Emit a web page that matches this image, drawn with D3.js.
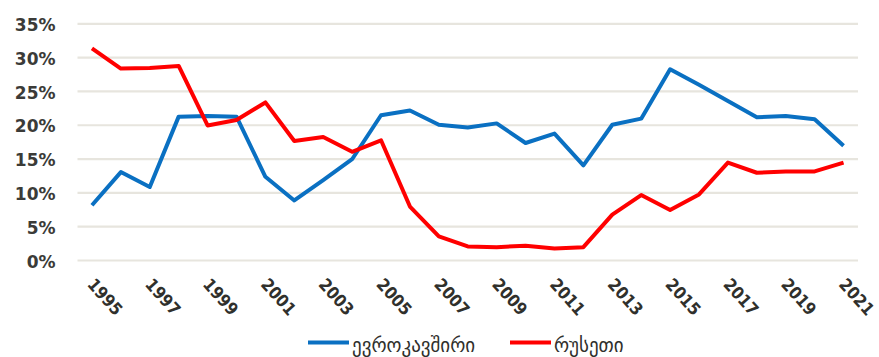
<!DOCTYPE html>
<html>
<head>
<meta charset="utf-8">
<script src="https://cdn.jsdelivr.net/npm/d3@7"></script>
<style>
  html, body { margin: 0; padding: 0; background: #ffffff; }
  svg { display: block; }
</style>
</head>
<body>
<svg id="chart" width="879" height="357"></svg>
<script>
// Annual share (%) by partner, 1995–2021
const years = d3.range(1995, 2022).map(String);
const euValues = [8.1, 13.0, 10.8, 21.2, 21.3, 21.2, 12.3, 8.8, 11.8, 14.9, 21.4, 22.1, 20.0, 19.6, 20.2, 17.3, 18.7, 14.0, 20.0, 20.9, 28.2, 25.9, 23.5, 21.1, 21.3, 20.8, 16.9];
const ruValues = [31.3, 28.3, 28.4, 28.7, 19.9, 20.7, 23.3, 17.6, 18.2, 16.0, 17.7, 7.9, 3.5, 2.0, 1.9, 2.1, 1.7, 1.9, 6.7, 9.6, 7.4, 9.7, 14.4, 12.9, 13.1, 13.1, 14.4];
const yTicks = [0, 5, 10, 15, 20, 25, 30, 35];
const xTickLabels = years.filter((d, i) => i % 2 === 0);
const seriesNames = ["ევროკავშირი", "რუსეთი"];
const seriesColors = ["#0a70c2", "#ff0000"];

const svg = d3.select("#chart");
const plot = { left: 77.5, right: 858, top: 23.3, bottom: 260 };

const x = d3.scalePoint().domain(years).range([plot.left, plot.right]).padding(0.5);
const y = d3.scaleLinear().domain([0, 35]).range([plot.bottom, plot.top]);

// Horizontal gridlines with percentage labels
const yAxis = d3.axisLeft(y)
  .tickValues(yTicks)
  .tickSize(-(plot.right - plot.left))
  .tickPadding(22)
  .tickFormat(d => d + "%");

const gy = svg.append("g")
  .attr("transform", `translate(${plot.left},0)`)
  .call(yAxis);
gy.select(".domain").remove();
gy.selectAll(".tick line")
  .attr("stroke", "#e7e5de")
  .attr("stroke-width", 2.2);
gy.selectAll(".tick text")
  .attr("fill", "#3b3b38")
  .attr("font-family", "'DejaVu Sans', sans-serif")
  .attr("font-weight", "bold")
  .attr("font-size", 17)
  .attr("dy", "0.42em");

// Year labels, every second year, slanted
const xAxis = d3.axisBottom(x)
  .tickValues(xTickLabels)
  .tickSize(0)
  .tickPadding(0);
const gx = svg.append("g")
  .attr("transform", `translate(0,${plot.bottom})`)
  .call(xAxis);
gx.select(".domain").remove();
gx.selectAll(".tick text")
  .attr("fill", "#30302c")
  .attr("font-family", "'DejaVu Sans Condensed', 'DejaVu Sans', sans-serif")
  .attr("font-weight", "bold")
  .attr("font-size", 17)
  .attr("text-anchor", "start")
  .attr("y", 0)
  .attr("dy", 0)
  .attr("transform", "translate(-6,25) rotate(48)");

// Series lines
const line = d3.line()
  .x((d, i) => x(years[i]))
  .y(d => y(d));

[euValues, ruValues].forEach((vals, k) => {
  svg.append("path")
    .datum(vals)
    .attr("fill", "none")
    .attr("stroke", seriesColors[k])
    .attr("stroke-width", 4)
    .attr("stroke-linejoin", "round")
    .attr("d", line);
});

// Legend
const legend = svg.append("g").attr("transform", "translate(0,342.5)");
const legendX = [308, 510];
seriesNames.forEach((name, k) => {
  const g = legend.append("g").attr("transform", `translate(${legendX[k]},0)`);
  g.append("line")
    .attr("x1", 0).attr("x2", 41)
    .attr("stroke", seriesColors[k])
    .attr("stroke-width", 4);
  g.append("text")
    .attr("x", 44)
    .attr("y", 9.5)
    .attr("fill", "#30302c")
    .attr("font-family", "'DejaVu Sans', sans-serif")
    .attr("font-size", 19)
    .text(name);
});
</script>
</body>
</html>
